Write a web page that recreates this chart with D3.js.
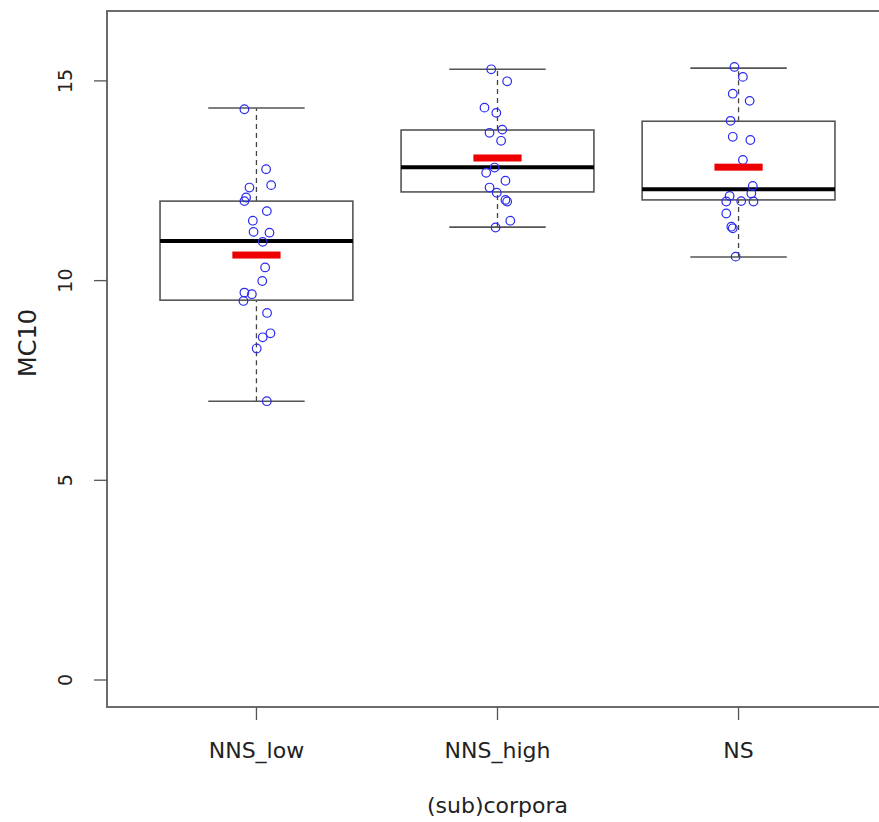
<!DOCTYPE html>
<html>
<head>
<meta charset="utf-8">
<script src="https://cdn.jsdelivr.net/npm/d3@7"></script>
<style>
  body { margin: 0; background: #fff; }
  text { font-family: "DejaVu Sans", sans-serif; fill: #222; }
</style>
</head>
<body>
<div id="chart"></div>
<script>
const groups = ["NNS_low", "NNS_high", "NS"];
const yTicks = [0, 5, 10, 15];

// box stats: lower whisker, Q1, median, Q3, upper whisker
const lowWhisker = [6.98, 11.34, 10.59];
const q1 = [9.51, 12.22, 12.02];
const medians = [10.99, 12.84, 12.29];
const q3 = [11.99, 13.77, 13.99];
const highWhisker = [14.32, 15.29, 15.32];
const means = [10.64, 13.07, 12.84];

// jittered points: values and horizontal jitter (in group units)
const lowVals = [14.29, 12.79, 12.39, 12.33, 12.08, 11.99, 11.74, 11.50, 11.22, 11.20, 10.97, 10.33, 9.99, 9.70, 9.66, 9.49, 9.19, 8.68, 8.58, 8.30, 6.98];
const lowJit = [-0.05, 0.04, 0.061, -0.029, -0.043, -0.05, 0.043, -0.015, -0.012, 0.054, 0.026, 0.036, 0.024, -0.05, -0.019, -0.054, 0.044, 0.058, 0.026, 0.001, 0.043];
const highVals = [15.29, 14.99, 14.33, 14.20, 13.78, 13.70, 13.50, 12.83, 12.70, 12.50, 12.33, 12.20, 12.02, 11.98, 11.50, 11.33];
const highJit = [-0.026, 0.04, -0.054, -0.005, 0.02, -0.033, 0.015, -0.012, -0.047, 0.033, -0.033, -0.003, 0.033, 0.04, 0.053, -0.008];
const nsVals = [15.35, 15.10, 14.68, 14.50, 14.00, 13.60, 13.52, 13.02, 12.37, 12.12, 12.18, 11.99, 11.98, 11.98, 11.68, 11.35, 11.31, 10.60];
const nsJit = [-0.017, 0.018, -0.024, 0.046, -0.033, -0.024, 0.049, 0.018, 0.059, -0.037, 0.053, 0.011, -0.051, 0.062, -0.051, -0.03, -0.024, -0.012];

const pointVals = [lowVals, highVals, nsVals];
const pointJit = [lowJit, highJit, nsJit];

const width = 879, height = 822;
const plot = { left: 107, right: 888, top: 11, bottom: 707 };

const svg = d3.select("#chart").append("svg").attr("width", width).attr("height", height);

const x = d3.scaleLinear().domain([0.38, 3.62]).range([plot.left, plot.right]);
const y = d3.scaleLinear().domain([-0.676, 16.75]).range([plot.bottom, plot.top]);

const boxW = 0.4, capW = 0.2, meanW = 0.1;

// frame
svg.append("rect")
  .attr("x", plot.left).attr("y", plot.top)
  .attr("width", plot.right - plot.left).attr("height", plot.bottom - plot.top)
  .attr("fill", "none").attr("stroke", "#6b6b6b").attr("stroke-width", 2);

const box = svg.append("g");
groups.forEach((g, i) => {
  const c = i + 1;
  // dashed whiskers
  box.append("line")
    .attr("x1", x(c)).attr("x2", x(c))
    .attr("y1", y(lowWhisker[i])).attr("y2", y(q1[i]))
    .attr("stroke", "#444").attr("stroke-width", 1.3).attr("stroke-dasharray", "5,4");
  box.append("line")
    .attr("x1", x(c)).attr("x2", x(c))
    .attr("y1", y(q3[i])).attr("y2", y(highWhisker[i]))
    .attr("stroke", "#444").attr("stroke-width", 1.3).attr("stroke-dasharray", "5,4");
  // caps
  [lowWhisker[i], highWhisker[i]].forEach(v => {
    box.append("line")
      .attr("x1", x(c - capW)).attr("x2", x(c + capW))
      .attr("y1", y(v)).attr("y2", y(v))
      .attr("stroke", "#555").attr("stroke-width", 1.6);
  });
  // box
  box.append("rect")
    .attr("x", x(c - boxW)).attr("y", y(q3[i]))
    .attr("width", x(c + boxW) - x(c - boxW)).attr("height", y(q1[i]) - y(q3[i]))
    .attr("fill", "none").attr("stroke", "#555").attr("stroke-width", 1.6);
  // median
  box.append("line")
    .attr("x1", x(c - boxW)).attr("x2", x(c + boxW))
    .attr("y1", y(medians[i])).attr("y2", y(medians[i]))
    .attr("stroke", "#000").attr("stroke-width", 4);
});

// points
groups.forEach((g, i) => {
  const c = i + 1;
  svg.append("g").selectAll("circle")
    .data(pointVals[i].map((v, j) => ({ v: v, j: pointJit[i][j] })))
    .enter().append("circle")
    .attr("cx", d => x(c + d.j))
    .attr("cy", d => y(d.v))
    .attr("r", 4.3)
    .attr("fill", "none")
    .attr("stroke", "#2a2af0")
    .attr("stroke-width", 1.2);
});

// means
svg.append("g").selectAll("rect")
  .data(means)
  .enter().append("rect")
  .attr("x", (d, i) => x(i + 1 - meanW))
  .attr("y", d => y(d) - 3.5)
  .attr("width", (d, i) => x(i + 1 + meanW) - x(i + 1 - meanW))
  .attr("height", 7)
  .attr("fill", "#ee0000");

// y axis
const yAxis = svg.append("g");
yTicks.forEach(t => {
  yAxis.append("line")
    .attr("x1", plot.left - 13).attr("x2", plot.left)
    .attr("y1", y(t)).attr("y2", y(t))
    .attr("stroke", "#555").attr("stroke-width", 1.3);
  yAxis.append("text")
    .attr("transform", `translate(${plot.left - 42},${y(t)}) rotate(-90)`)
    .attr("text-anchor", "middle")
    .attr("dominant-baseline", "central")
    .attr("font-size", 19)
    .text(t);
});

// x axis
const xAxis = svg.append("g");
groups.forEach((g, i) => {
  xAxis.append("line")
    .attr("x1", x(i + 1)).attr("x2", x(i + 1))
    .attr("y1", plot.bottom).attr("y2", plot.bottom + 13)
    .attr("stroke", "#555").attr("stroke-width", 1.3);
  xAxis.append("text")
    .attr("x", x(i + 1)).attr("y", 758)
    .attr("text-anchor", "middle")
    .attr("font-size", 22)
    .text(g);
});

svg.append("text")
  .attr("x", x(2)).attr("y", 813)
  .attr("text-anchor", "middle")
  .attr("font-size", 22)
  .text("(sub)corpora");

svg.append("text")
  .attr("transform", `translate(28,343) rotate(-90)`)
  .attr("text-anchor", "middle")
  .attr("dominant-baseline", "central")
  .attr("font-size", 24)
  .text("MC10");
</script>
</body>
</html>
